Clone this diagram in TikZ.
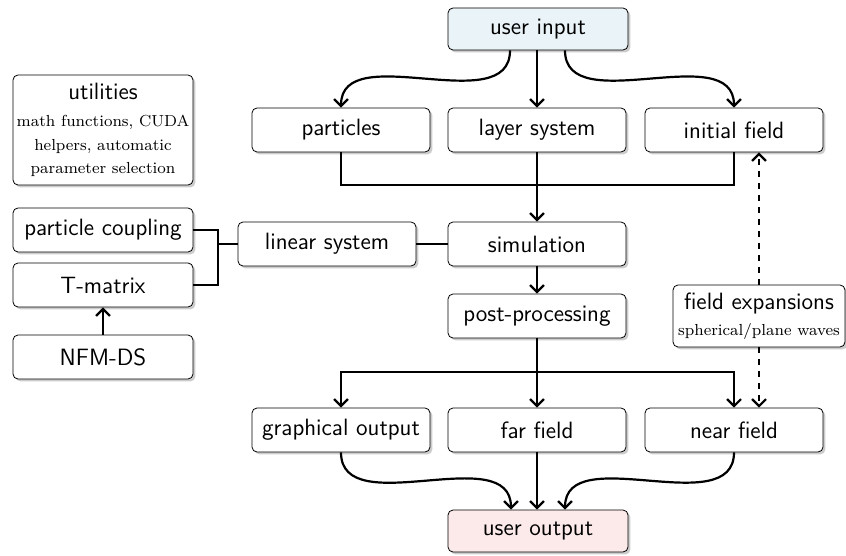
\documentclass[tikz,border=0pt]{standalone}
\usepackage{tikz}
\usepackage{amsmath, amssymb}
\usetikzlibrary{calc,arrows.meta,shadows}

\definecolor{inblue}{RGB}{234,243,247}
\definecolor{outpink}{RGB}{252,234,234}
\newcommand{\boxhead}[1]{{\sffamily\fontsize{11.8}{14}\selectfont #1}}

\begin{document}
\begin{tikzpicture}[%
x=0.5pt, y=-0.5pt,
box/.style={draw, thin, rounded corners=2.5pt, fill=white, font=\sffamily\fontsize{11.8}{14}\selectfont, minimum width=89pt, minimum height=22pt, inner sep=1pt, drop shadow={shadow xshift=1.2pt, shadow yshift=-1.2pt, opacity=0.4}},
notes/.style={font=\rmfamily\fontsize{8}{11.2}\selectfont, align=center},
link/.style={line width=1.1pt},
flow/.style={line width=1.1pt, -{Straight Barb[length=3.5pt,width=7pt]}},
]
\useasboundingbox (0,0) rectangle (846,556);
%% box;
\node [box, fill=inblue, minimum width=90pt, minimum height=21pt] (userin) at (538,29) {user input};
\node [box, notes, minimum width=90pt, minimum height=55pt] (utils) at (103,130) {\boxhead{utilities}\\[2.5pt]math functions, CUDA\\[0.6pt]helpers, automatic\\[0.6pt]parameter selection};
%% box;
\node [box] (particles) at (341,130) {particles};
\node [box] (layersys) at (537,130) {layer system};
\node [box] (initfield) at (734,130) {initial field};
%% box;
\node [box, minimum width=90pt] (pcoupling) at (103,230) {particle coupling};
\node [box, minimum width=90pt] (tmatrix) at (103,285) {T-matrix};
\node [box, minimum width=90pt] (nfmds) at (103,357) {NFM-DS};
%% box;
\node [box] (linsys) at (327,244) {linear system};
\node [box] (sim) at (537,244) {simulation};
\node [box] (postproc) at (537,316) {post-processing};
\node [box, notes, minimum width=86pt, minimum height=31pt] (fieldexp) at (759,316) {\boxhead{field expansions}\\[2pt]spherical/plane waves};
%% box;
\node [box] (graphout) at (341,430) {graphical output};
\node [box] (farfield) at (537,430) {far field};
\node [box] (nearfield) at (734,430) {near field};
\node [box, fill=outpink, minimum width=90pt, minimum height=21pt] (userout) at (538,531) {user output};
%% joints;
\coordinate (inputjoin) at (537,185);
\coordinate (lsjoin) at (218,244);
\coordinate (split) at (537,372);
%% arrows;
\draw [flow] ([xshift=-14pt]userin.south) to[out=-90, in=90] (particles.north);
\draw [flow] (userin.south -| layersys.north) -- (layersys.north);
\draw [flow] ([xshift=13.5pt]userin.south) to[out=-90, in=90] (initfield.north);
\draw [link] (particles.south) |- (inputjoin);
\draw [link] (initfield.south) |- (inputjoin);
\draw [flow] (layersys.south) -- (sim.north);
%% left side;
\draw [link] (pcoupling.east) -| (lsjoin) -- (linsys.west);
\draw [link] (tmatrix.east) -| (lsjoin);
\draw [flow] (nfmds.north) -- (tmatrix.south);
\draw [link] (linsys.east) -- (sim.west);
%% outputs;
\draw [flow] (sim.south) -- (postproc.north);
\draw [link] (postproc.south) -- (split);
\draw [flow] (split) -| (graphout.north);
\draw [flow] (split) -- (farfield.north);
\draw [flow] (split) -| (nearfield.north);
\draw [flow, dashed] (fieldexp.north) -- (fieldexp.north |- initfield.south);
\draw [flow, dashed] (fieldexp.south) -- (fieldexp.south |- nearfield.north);
%% arrows;
\draw [flow] (graphout.south) to[out=-90, in=90] ([xshift=-13.5pt]userout.north);
\draw [flow] (farfield.south) -- (farfield.south |- userout.north);
\draw [flow] (nearfield.south) to[out=-90, in=90] ([xshift=13.5pt]userout.north);
\end{tikzpicture}
\end{document}
